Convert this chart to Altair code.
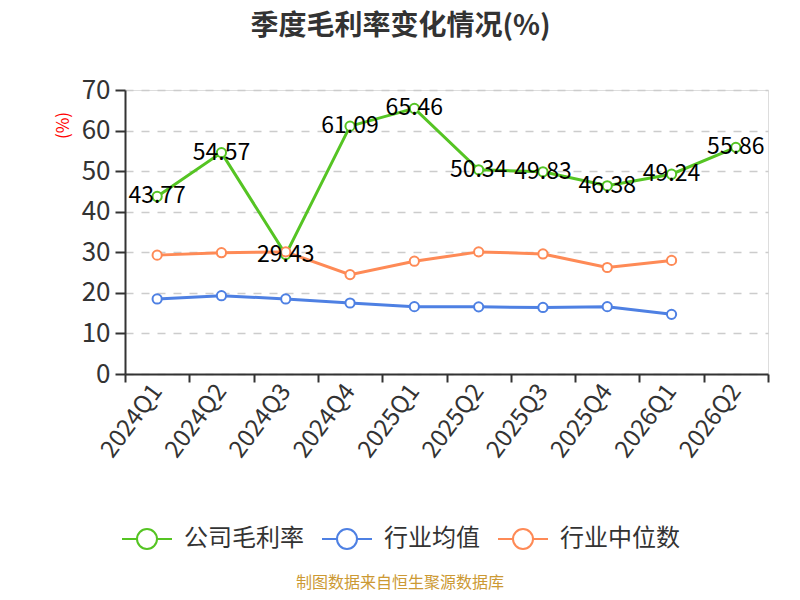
import altair as alt
import pandas as pd

quarters = ["2024Q1", "2024Q2", "2024Q3", "2024Q4", "2025Q1",
            "2025Q2", "2025Q3", "2025Q4", "2026Q1", "2026Q2"]
company = [43.77, 54.57, 29.43, 61.09, 65.46, 50.34, 49.83, 46.38, 49.24, 55.86]
industry_avg = [18.5, 19.3, 18.5, 17.5, 16.6, 16.55, 16.4, 16.6, 14.7, None]
industry_median = [29.3, 29.9, 30.1, 24.5, 27.8, 30.1, 29.6, 26.25, 28.0, None]
series_names = ["公司毛利率", "行业均值", "行业中位数"]
series_colors = ["#55c423", "#4e80e3", "#fe8a56"]
y_ticks = [0, 10, 20, 30, 40, 50, 60, 70]

rows = []
for name, vals in zip(series_names, [company, industry_avg, industry_median]):
    for q, v in zip(quarters, vals):
        if v is not None:
            rows.append({"季度": q, "系列": name, "值": v})
df = pd.DataFrame(rows)
df_company = df[df["系列"] == "公司毛利率"]
source = pd.DataFrame({"t": ["制图数据来自恒生聚源数据库"]})

FONT = "Noto Sans CJK SC"

x_enc = alt.X(
    "季度:N",
    sort=quarters,
    scale=alt.Scale(type="band", domain=quarters, paddingInner=0, paddingOuter=0),
    axis=alt.Axis(
        title=None, labelAngle=307, labelAlign="right", labelBaseline="middle",
        labelFontSize=24, labelColor="#333333", labelPadding=5, labelFont=FONT,
        tickBand="extent", tickSize=8, tickColor="#333333", tickWidth=2,
        domainColor="#333333", domainWidth=2, grid=False,
    ),
)
y_enc = alt.Y(
    "值:Q",
    scale=alt.Scale(domain=[0, 70], nice=False, zero=True),
    axis=alt.Axis(
        title="(%)", titleColor="#ff0000", titleFontSize=17, titleFontWeight="normal",
        titleAngle=270, titleX=-62, titleY=35, titleAlign="center", titleBaseline="middle",
        titleFont=FONT,
        values=y_ticks, labelFontSize=26, labelColor="#333333", labelFont=FONT,
        labelPadding=5, tickSize=10, tickColor="#333333", tickWidth=2,
        domainColor="#333333", domainWidth=2,
        grid=True, gridColor="#cccccc", gridDash=[8, 8], gridWidth=1.5,
    ),
)
color_enc = alt.Color(
    "系列:N",
    scale=alt.Scale(domain=series_names, range=series_colors),
    sort=series_names,
    legend=alt.Legend(
        title=None, orient="none", direction="horizontal", legendX=-4, legendY=423,
        symbolType="M-1,0L-0.4,0M0.4,0L1,0M-0.4,0A0.4,0.4 0 1,1 0.4,0A0.4,0.4 0 1,1 -0.4,0",
        symbolSize=2500, symbolStrokeWidth=2, symbolFillColor="white",
        labelFontSize=24, labelColor="#333333", labelFont=FONT, labelOffset=11,
        columnPadding=14,
    ),
)

base = alt.Chart(df).encode(x=x_enc, y=y_enc, color=color_enc)
lines = base.mark_line(strokeWidth=3)
points = base.mark_point(filled=False, fill="white", fillOpacity=1, size=85, strokeWidth=2, opacity=1)
labels = alt.Chart(df_company).mark_text(
    fontSize=23, color="#000000", font=FONT, align="center", baseline="middle"
).encode(x=alt.X("季度:N", sort=quarters), y="值:Q", text=alt.Text("值:Q", format=".2f"))
src = alt.Chart(source).mark_text(
    fontSize=16, color="#cc9933", font=FONT, align="center", baseline="middle"
).encode(x=alt.value(275), y=alt.value(493), text="t:N")

chart = alt.layer(lines, points, labels, src).properties(
    width=643, height=284,
    autosize=alt.AutoSizeParams(type="none"),
    padding={"left": 117, "top": 82, "right": 24, "bottom": 218},
    title=alt.TitleParams(
        text="季度毛利率变化情况(%)", fontSize=28, fontWeight="bold", color="#333333",
        font=FONT, anchor="middle", dx=-46, offset=36,
    ),
).configure_view(stroke=None).configure(background="white")

chart.save("out.html", embed_options={"renderer": "svg", "actions": False})
